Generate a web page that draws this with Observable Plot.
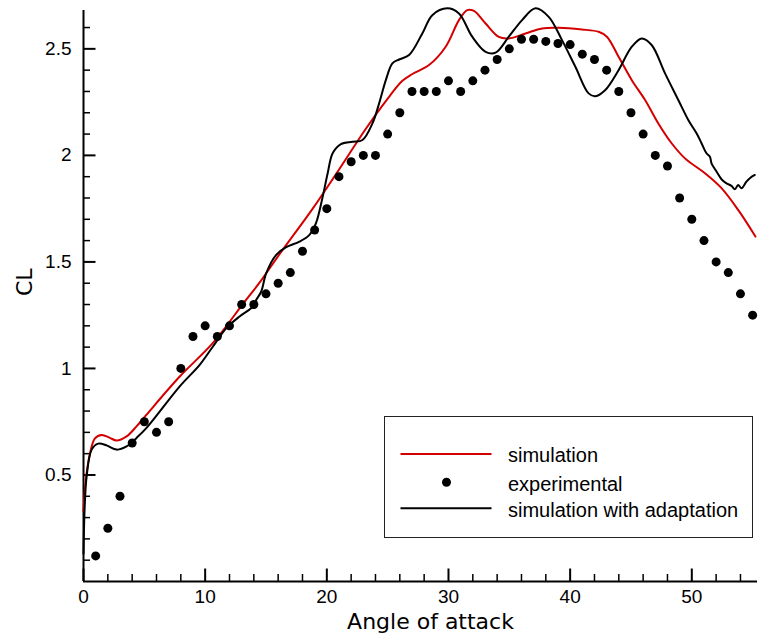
<!DOCTYPE html>
<html><head><meta charset="utf-8">
<script src="https://cdn.jsdelivr.net/npm/d3@7"></script>
<script src="https://cdn.jsdelivr.net/npm/@observablehq/plot@0.6"></script>
<style>html,body{margin:0;padding:0;background:#fff;} svg{display:block;overflow:visible}</style>
</head><body><div id="chart"></div>
<script>
// Experimental data (angle of attack, CL)
const expX = [1,2,3,4,5,6,7,8,9,10,11,12,13,14,15,16,17,18,19,20,21,22,23,24,25,26,27,28,29,30,31,32,33,34,35,36,37,38,39,40,41,42,43,44,45,46,47,48,49,50,51,52,53,54,55];
const expY = [0.12,0.25,0.4,0.65,0.75,0.7,0.75,1.0,1.15,1.2,1.15,1.2,1.3,1.3,1.35,1.4,1.45,1.55,1.65,1.75,1.9,1.97,2.0,2.0,2.1,2.2,2.3,2.3,2.3,2.35,2.3,2.35,2.4,2.45,2.5,2.545,2.545,2.535,2.525,2.52,2.475,2.45,2.4,2.3,2.2,2.1,2.0,1.95,1.8,1.7,1.6,1.5,1.45,1.35,1.25];

// Simulation (red)
const simX = [0,0.1,0.26,0.53,0.94,1.49,2.17,2.72,3.54,4.36,5.18,7.91,10.64,13.2,14.5,16.1,18.84,21.02,23.21,24.85,26.21,27.03,28.4,29.77,30.86,31.54,32.09,33.05,34.14,34.96,36.33,37.69,39.06,40.97,42.34,43.02,43.98,45.07,46.16,47.25,48.34,49.44,51.08,52.44,53.81,55.23];
const simY = [0.33,0.42,0.51,0.6,0.672,0.688,0.674,0.662,0.681,0.728,0.783,0.962,1.12,1.31,1.405,1.535,1.75,1.935,2.125,2.255,2.35,2.382,2.424,2.51,2.635,2.682,2.678,2.619,2.556,2.549,2.572,2.596,2.599,2.591,2.58,2.557,2.463,2.353,2.26,2.15,2.057,1.986,1.916,1.846,1.744,1.619];

// Simulation with adaptation (black)
const adaX = [0,0.1,0.26,0.67,1.21,1.9,2.72,3.54,4.36,5.18,7.91,9.55,10.64,11.74,12.83,13.92,14.2,14.6,15.02,15.84,16.66,17.75,18.57,19.11,19.66,20.07,20.48,21.16,22.11,22.93,23.75,24.3,24.85,25.39,25.94,26.76,27.85,28.67,29.9,30.86,31.95,33.05,33.87,34.96,36.05,37.15,38.24,39.33,40.43,41.52,42.07,42.89,43.98,45.07,45.89,46.7,47.8,48.89,49.71,50.39,50.8,51.21,51.49,51.62,52.03,52.44,52.85,53.26,53.54,53.81,54.08,54.49,54.77,55.18];
const adaY = [0.13,0.353,0.494,0.619,0.647,0.639,0.619,0.634,0.674,0.721,0.916,1.017,1.103,1.189,1.244,1.29,1.322,1.36,1.447,1.533,1.569,1.595,1.627,1.682,1.806,1.916,2.01,2.053,2.064,2.072,2.15,2.244,2.353,2.432,2.45,2.471,2.572,2.658,2.69,2.666,2.557,2.486,2.482,2.557,2.635,2.69,2.65,2.541,2.416,2.291,2.278,2.307,2.4,2.51,2.549,2.518,2.385,2.26,2.166,2.104,2.057,2.01,1.994,1.963,1.924,1.888,1.869,1.857,1.841,1.861,1.846,1.877,1.893,1.908];

// Ticks
const xMajor = [0,10,20,30,40,50];
const xMinor = [2,4,6,8,12,14,16,18,22,24,26,28,32,34,36,38,42,44,46,48,52,54];
const yMajor = [0.5,1,1.5,2,2.5];
const yMinor = [0.1,0.2,0.3,0.4,0.6,0.7,0.8,0.9,1.1,1.2,1.3,1.4,1.6,1.7,1.8,1.9,2.1,2.2,2.3,2.4,2.6];

const xTitle = "Angle of attack";
const yTitle = "CL";
const legendLabels = ["simulation","experimental","simulation with adaptation"];
const red = "#d40000";

const exp = expX.map((x,i)=>({x, y: expY[i]}));
const sim = simX.map((x,i)=>({x, y: simY[i]}));
const ada = adaX.map((x,i)=>({x, y: adaY[i]}));

const W = 758, H = 640, mL = 83, mR = 1, mT = 10, mB = 59;
const plotW = W - mL - mR, plotH = H - mT - mB;

const chart = Plot.plot({
  width: W, height: H,
  marginLeft: mL, marginRight: mR, marginTop: mT, marginBottom: mB,
  x: {domain: [0, 55.4]},
  y: {domain: [0, 2.68]},
  style: {fontFamily: "'Liberation Sans', Arial, sans-serif", fontSize: "19px", color: "#000", background: "#fff"},
  marks: [
    Plot.ruleX(xMinor, {stroke: "#000", strokeWidth: 1.5, insetTop: plotH - 7}),
    Plot.ruleX(xMajor, {stroke: "#000", strokeWidth: 2, insetTop: plotH - 12.5}),
    Plot.ruleY(yMinor, {stroke: "#000", strokeWidth: 1.5, insetRight: plotW - 7}),
    Plot.ruleY(yMajor, {stroke: "#000", strokeWidth: 2, insetRight: plotW - 12.5}),
    Plot.ruleX([0], {stroke: "#000", strokeWidth: 2}),
    Plot.ruleY([0], {stroke: "#000", strokeWidth: 2}),
    Plot.axisX(xMajor, {tickSize: 0, tickPadding: 8, label: null, fontSize: 19, tickFormat: d => String(d)}),
    Plot.axisY(yMajor, {tickSize: 0, tickPadding: 12, label: null, fontSize: 19, tickFormat: d => String(d)}),
    Plot.line(sim, {x: "x", y: "y", stroke: red, strokeWidth: 2, curve: "catmull-rom"}),
    Plot.dot(exp, {x: "x", y: "y", r: 4.5, fill: "#000", stroke: null}),
    Plot.line(ada, {x: "x", y: "y", stroke: "#000", strokeWidth: 2, curve: "catmull-rom"}),
    Plot.text([xTitle], {frameAnchor: "bottom", dx: 10, dy: 47, lineAnchor: "bottom", fontSize: 22, fontFamily: "DejaVu Sans", fill: "#000"}),
    Plot.text([yTitle], {frameAnchor: "left", dx: -52, rotate: -90, lineAnchor: "bottom", fontSize: 22, fontFamily: "DejaVu Sans", fill: "#000"})
  ]
});

// Legend box
const svg = d3.select(chart);
const lg = svg.append("g").attr("font-family", "'Liberation Sans', Arial, sans-serif").attr("font-size", 20).attr("text-anchor", "start");
const bx = 384.5, by = 416.5, bw = 368, bh = 121;
lg.append("rect").attr("x", bx).attr("y", by).attr("width", bw).attr("height", bh)
  .attr("fill", "#fff").attr("stroke", "#222").attr("stroke-width", 1);
const rowY = [454, 482.3, 508.3];
lg.append("line").attr("x1", 400.5).attr("x2", 491.5).attr("y1", rowY[0]).attr("y2", rowY[0]).attr("stroke", red).attr("stroke-width", 2);
lg.append("circle").attr("cx", 446.5).attr("cy", rowY[1]).attr("r", 4.5).attr("fill", "#000");
lg.append("line").attr("x1", 400.5).attr("x2", 491.5).attr("y1", rowY[2]).attr("y2", rowY[2]).attr("stroke", "#000").attr("stroke-width", 2);
legendLabels.forEach((t, i) => {
  lg.append("text").attr("x", 508).attr("y", rowY[i] + 8.3).attr("text-anchor", "start").attr("fill", "#000").text(t);
});

document.getElementById("chart").appendChild(chart);
</script>
</body></html>
